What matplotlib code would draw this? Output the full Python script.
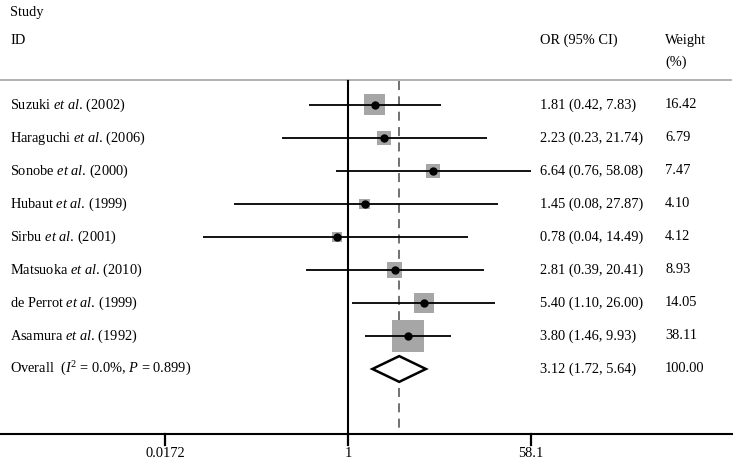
import matplotlib
matplotlib.use('Agg')
import matplotlib.pyplot as plt
from matplotlib.patches import Polygon
import matplotlib.transforms as mtransforms
import numpy as np

plt.rcParams['font.family'] = 'Liberation Serif'
plt.rcParams['mathtext.fontset'] = 'custom'
plt.rcParams['mathtext.rm'] = 'Liberation Serif'
plt.rcParams['mathtext.it'] = 'Liberation Serif:italic'

authors = ['Suzuki', 'Haraguchi', 'Sonobe', 'Hubaut', 'Sirbu',
           'Matsuoka', 'de Perrot', 'Asamura']
years = [2002, 2006, 2000, 1999, 2001, 2010, 1999, 1992]
odds = [1.81, 2.23, 6.64, 1.45, 0.78, 2.81, 5.40, 3.80]
ci_lo = [0.42, 0.23, 0.76, 0.08, 0.04, 0.39, 1.10, 1.46]
ci_hi = [7.83, 21.74, 58.08, 27.87, 14.49, 20.41, 26.00, 9.93]
weights = [16.42, 6.79, 7.47, 4.10, 4.12, 8.93, 14.05, 38.11]
overall_or, overall_lo, overall_hi = 3.12, 1.72, 5.64
overall_label = r'Overall  ($I^2$ = 0.0%, $P$ = 0.899)'
xticks = [0.0172, 1, 58.1]
xticklabels = ['0.0172', '1', '58.1']

fs = 10.4
fig = plt.figure(figsize=(7.33, 4.62), dpi=100)
ax = fig.add_axes([0, 28 / 462, 1, 434 / 462])
ax.set_xscale('log')
ax.set_xlim(10 ** -3.356, 10 ** 3.713)
ax.set_ylim(9.97, -3.18)

for s in ['top', 'left', 'right']:
    ax.spines[s].set_visible(False)
ax.spines['bottom'].set_linewidth(1.5)
ax.set_yticks([])
ax.minorticks_off()
ax.set_xticks([])

n = len(authors)
rows = np.arange(n)
tr = mtransforms.blended_transform_factory(ax.transAxes, ax.transData)
trx = mtransforms.blended_transform_factory(ax.transData, ax.transAxes)

# x ticks and labels drawn by hand below the axis line
for t, lab in zip(xticks, xticklabels):
    ax.plot([t, t], [0, -0.025], transform=trx, color='black', lw=1.6,
            clip_on=False)
    ax.text(t, -0.045, lab, transform=trx, fontsize=fs, ha='center', va='center')

# header
ax.text(10 / 733, -2.8, 'Study', transform=tr, fontsize=fs, va='center')
ax.text(10 / 733, -1.95, 'ID', transform=tr, fontsize=fs, va='center')
ax.text(540 / 733, -1.95, 'OR (95% CI)', transform=tr, fontsize=fs, va='center')
ax.text(665 / 733, -1.95, 'Weight', transform=tr, fontsize=fs, va='center')
ax.text(665 / 733, -1.3, '(%)', transform=tr, fontsize=fs, va='center')
ax.plot([0, 731 / 733], [-0.76, -0.76], transform=tr, color='#aaaaaa', lw=1.3,
        clip_on=False)

# reference lines
ax.plot([1, 1], [-0.73, 9.97], color='black', lw=1.5, clip_on=False)
ax.plot([overall_or, overall_or], [-0.73, 9.97], color='#666666', lw=1.3,
        dashes=(5, 3.5))

# studies
side_px = 32 * np.sqrt(np.array(weights) / max(weights))
ax.scatter(odds, rows, marker='s', s=(side_px * 0.72) ** 2, color='#a6a6a6',
           edgecolors='none', zorder=2)
ax.hlines(rows, ci_lo, ci_hi, color='black', lw=1.3, zorder=3)
ax.plot(odds, rows, 'o', color='black', ms=5, zorder=4)

for i in range(n):
    ax.text(10 / 733, i, r'%s $\mathit{et\ al.}\,$(%d)' % (authors[i], years[i]),
            transform=tr, fontsize=fs, va='center')
    ax.text(540 / 733, i, '%.2f (%.2f, %.2f)' % (odds[i], ci_lo[i], ci_hi[i]),
            transform=tr, fontsize=fs, va='center')
    ax.text(665 / 733, i, '%.2f' % weights[i], transform=tr, fontsize=fs,
            va='center')

# overall diamond
yo = n
h = 0.39
ax.add_patch(Polygon([(overall_lo, yo), (overall_or, yo - h), (overall_hi, yo),
                      (overall_or, yo + h)], closed=True, facecolor='white',
                     edgecolor='black', lw=1.8, zorder=3))
ax.text(10 / 733, yo, overall_label, transform=tr, fontsize=fs, va='center')
ax.text(540 / 733, yo, '%.2f (%.2f, %.2f)' % (overall_or, overall_lo, overall_hi),
        transform=tr, fontsize=fs, va='center')
ax.text(665 / 733, yo, '100.00', transform=tr, fontsize=fs, va='center')

fig.savefig('out.png', dpi=100)
